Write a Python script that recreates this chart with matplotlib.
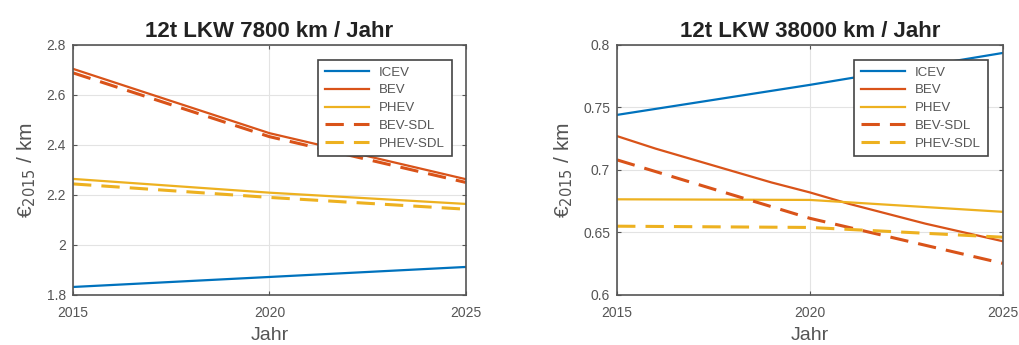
import matplotlib
matplotlib.use('Agg')
import matplotlib.pyplot as plt

plt.rcParams['font.family'] = ['Liberation Sans', 'DejaVu Sans']

jahre = [2015, 2020, 2025]
jahre_fein = list(range(2015, 2026))

# 7800 km / Jahr
icev_a = [1.832, 1.872, 1.912]
bev_a = [2.704, 2.447, 2.263]
phev_a = [2.264, 2.209, 2.164]
bev_sdl_a = [2.688, 2.433, 2.250]
phev_sdl_a = [2.244, 2.190, 2.143]

# 38000 km / Jahr
icev_b = [0.744, 0.768, 0.7935]
bev_b = [0.727, 0.717, 0.708, 0.699, 0.690, 0.682, 0.673, 0.665, 0.657, 0.650, 0.643]
phev_b = [0.6765, 0.676, 0.6665]
bev_sdl_b = [0.708, 0.6613, 0.6253]
phev_sdl_b = [0.655, 0.654, 0.6462]

titel = ['12t LKW 7800 km / Jahr', '12t LKW 38000 km / Jahr']
blau, rot, gelb = '#0072BD', '#D95319', '#EDB120'

fig = plt.figure(figsize=(10.2, 3.45), dpi=100)
ax1 = fig.add_axes([0.0716, 0.145, 0.385, 0.725])
ax2 = fig.add_axes([0.605, 0.145, 0.378, 0.725])

daten = [
    (ax1, jahre, icev_a, bev_a, phev_a, bev_sdl_a, phev_sdl_a, (1.8, 2.8), [1.8, 2, 2.2, 2.4, 2.6, 2.8], ['1.8', '2', '2.2', '2.4', '2.6', '2.8'], 0.964),
    (ax2, jahre_fein, icev_b, bev_b, phev_b, bev_sdl_b, phev_sdl_b, (0.6, 0.8), [0.6, 0.65, 0.7, 0.75, 0.8], ['0.6', '0.65', '0.7', '0.75', '0.8'], 0.961),
]

strich = (0, (6, 3.3))

for i, (ax, x_bev, icev, bev, phev, bev_sdl, phev_sdl, ylim, yt, ytl, leg_x) in enumerate(daten):
    lw = 1.6
    ax.plot(jahre, icev, color=blau, lw=lw, label='ICEV')
    ax.plot(x_bev, bev, color=rot, lw=lw, label='BEV')
    ax.plot(jahre, phev, color=gelb, lw=lw, label='PHEV')
    ax.plot(jahre, bev_sdl, color=rot, lw=2.2, ls=strich, label='BEV-SDL')
    ax.plot(jahre, phev_sdl, color=gelb, lw=2.2, ls=strich, label='PHEV-SDL')

    ax.set_xlim(2015, 2025)
    ax.set_ylim(*ylim)
    ax.set_xticks([2015, 2020, 2025])
    ax.set_yticks(yt)
    ax.set_yticklabels(ytl)
    ax.tick_params(direction='in', top=True, right=True, labelsize=10,
                   colors='#555555', length=3, width=0.8)
    ax.tick_params(axis='x', pad=8)
    ax.tick_params(axis='y', pad=5)
    ax.grid(True, color='#e3e3e3', lw=0.8)
    for s in ax.spines.values():
        s.set_color('#555555')
        s.set_linewidth(1.2)

    ax.set_title(titel[i], fontsize=16, fontweight='bold', color='#222222', pad=6)
    ax.set_xlabel('Jahr', fontsize=14, color='#555555', labelpad=5)
    ax.set_ylabel('€$_{2015}$ / km', fontsize=15, color='#555555', labelpad=6)

    leg = ax.legend(loc='upper right', bbox_to_anchor=(leg_x, 0.94), fontsize=9.5,
                    fancybox=False, framealpha=1, edgecolor='#444444',
                    handlelength=3.3, labelspacing=0.42, borderpad=0.5,
                    borderaxespad=0)
    leg.get_frame().set_linewidth(1.2)
    for t in leg.get_texts():
        t.set_color('#555555')

fig.savefig('out.png', dpi=100)
